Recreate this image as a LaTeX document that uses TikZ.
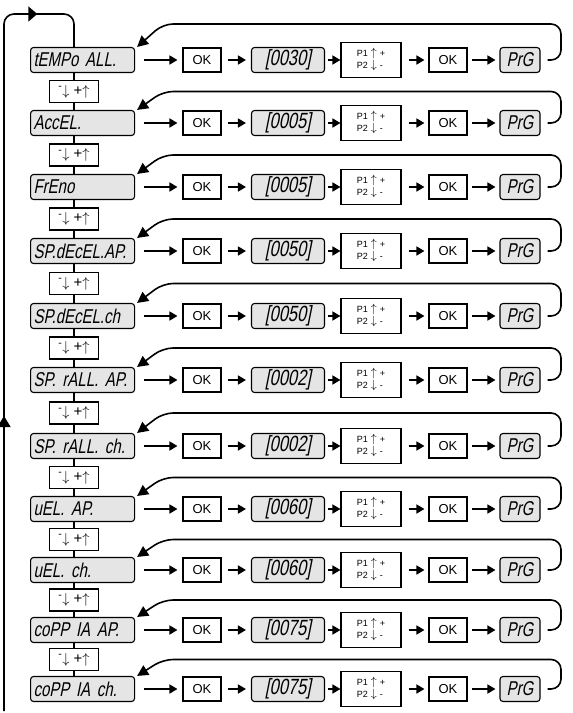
\documentclass[tikz,border=0pt]{standalone}
\usepackage{fontspec}
\setmainfont{Liberation Sans}
\newfontfamily\lcdfont{Liberation Sans}[FakeSlant=0.2,FakeStretch=0.75]
\usetikzlibrary{positioning, arrows.meta, decorations.markings}
\tikzset{
    base/.style={draw, line width=1.1pt, inner sep=0pt, align=center},
    lcd/.style={base, fill=black!10, rounded corners=3pt, minimum height=25pt, font=\lcdfont\fontsize{20}{20}\selectfont},
    lcdname/.style={lcd, anchor=west, text width=98pt, inner xsep=3pt, align=left},
    lcdval/.style={lcd, minimum width=73pt, font=\lcdfont\fontsize{22}{22}\selectfont},
    lcdprg/.style={lcd, minimum width=40pt},
    okbox/.style={base, minimum width=38pt, minimum height=24pt, font=\fontsize{13}{13}\selectfont},
    keybox/.style={base, minimum width=60pt, minimum height=35pt, font=\fontsize{9}{12}\selectfont},
    selbox/.style={base, minimum width=49pt, minimum height=22pt, font=\fontsize{15}{15}\selectfont},
    arrow/.style={-{Triangle[length=8pt,width=9pt]}, line width=1.6pt},
    stem/.style={line width=1.6pt},
    retarrow/.style={-{Triangle[length=11pt,width=11pt]}, line width=1.6pt, rounded corners=10pt}
}
\newcommand{\keylabel}{\begin{tabular}{@{}l@{\hspace{3pt}}c@{\hspace{3pt}}l@{}}P1 & {\fontsize{12}{12}\selectfont$\uparrow$} & +\\ P2 & {\fontsize{12}{12}\selectfont$\downarrow$} & -\end{tabular}}
\newcommand{\sellabel}{\textsuperscript{-}$\downarrow$\ +$\uparrow$}

\begin{document}
\begin{tikzpicture}[x=1pt, y=-1pt]
    \useasboundingbox (0,0) rectangle (573,713);
    % helper coordinates
    \coordinate (stemx) at (74,0);
    \coordinate (leftx) at (163,0);
    \coordinate (rightx) at (561,0);
    \coordinate (mid0) at (0,24);
    \coordinate (loopstart) at (4,711);
    \coordinate (looptop) at (74,14);

    % one row per parameter
    \foreach \name/\val/\y [count=\i] in {tEMPo ALL./0030/60, AccEL./0005/123, FrEno/0005/187,
        SP.dEcEL.AP./0050/251, SP.dEcEL.ch/0050/316, SP. rALL. AP./0002/380, SP. rALL. ch./0002/446,
        uEL. AP./0060/509, uEL. ch./0060/570, coPP IA AP./0075/630, coPP IA ch./0075/689} {
        \node [lcdname] (lcd\i) at (30,\y) {\name};
        \node [okbox] (oka\i) at (202,\y) {OK};
        \node [lcdval] (val\i) at (288,\y) {[\val]};
        \node [keybox] (key\i) at (371,\y) {\keylabel};
        \node [okbox] (okb\i) at (448,\y) {OK};
        \node [lcdprg] (prg\i) at (520,\y) {PrG};

        \draw [arrow, shorten <=9pt, shorten >=5pt] (lcd\i) -- (oka\i);
        \draw [arrow, shorten <=6pt, shorten >=5pt] (oka\i) -- (val\i);
        \draw [arrow, shorten <=3pt] (val\i) -- (key\i);
        \draw [arrow, shorten <=7pt, shorten >=4pt] (key\i) -- (okb\i);
        \draw [arrow, shorten <=4pt, shorten >=4pt] (okb\i) -- (prg\i);
    }

    % selection keys between rows
    \foreach \i in {1,...,10} {
        \pgfmathtruncatemacro\j{\i+1}
        \path (lcd\i.west) -- (lcd\j.west) coordinate[pos=0.5] (mid\i);
        \node [selbox] (sel\i) at (mid\i -| stemx) {\sellabel};
        \draw [stem] (sel\i.north) -- (sel\i.north |- lcd\i.south);
        \draw [stem] (sel\i.south) -- (sel\i.south |- lcd\j.north);
    }

    % return from PrG to the parameter
    \foreach \i in {1,...,11} {
        \pgfmathtruncatemacro\h{\i-1}
        \draw [retarrow] ([xshift=7pt]prg\i.east) -| (mid\h -| rightx) -- (mid\h -| leftx) -- ([xshift=2pt]lcd\i.north east);
    }

    % loop back to the first parameter
    \draw [stem, rounded corners=10pt, postaction=decorate,
        decoration={markings,
            mark=at position 295pt with {\arrow{Triangle[length=11pt,width=13pt]}},
            mark=at position 726pt with {\arrow{Triangle[length=9pt,width=15pt]}}}]
        (loopstart) |- (looptop) -- (looptop |- lcd1.north);
\end{tikzpicture}
\end{document}
